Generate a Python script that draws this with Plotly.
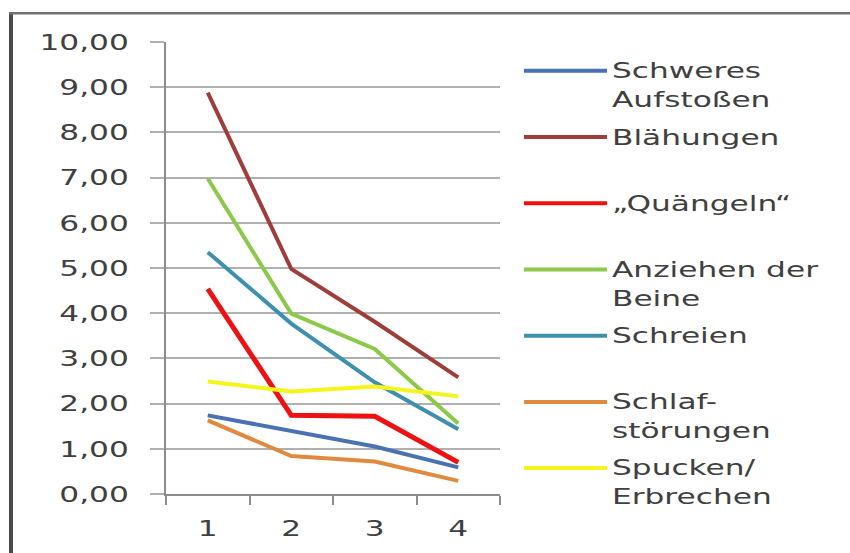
import plotly.graph_objects as go

# Measurement points on the category axis
periods = [1, 2, 3, 4]

# Symptom scores per measurement point
schweres_aufstossen = [1.74, 1.39, 1.05, 0.59]
blaehungen = [8.88, 4.98, 3.81, 2.58]
quaengeln = [4.54, 1.74, 1.72, 0.70]
anziehen_beine = [6.98, 3.99, 3.21, 1.56]
schreien = [5.35, 3.77, 2.47, 1.43]
schlafstoerungen = [1.63, 0.84, 0.72, 0.29]
spucken_erbrechen = [2.49, 2.27, 2.38, 2.16]

labels = [
    "Schweres<br>Aufstoßen",
    "Blähungen",
    "„Quängeln“",
    "Anziehen der<br>Beine",
    "Schreien",
    "Schlaf-<br>störungen",
    "Spucken/<br>Erbrechen",
]
values = [
    schweres_aufstossen,
    blaehungen,
    quaengeln,
    anziehen_beine,
    schreien,
    schlafstoerungen,
    spucken_erbrechen,
]
colors = ["#4a72b2", "#9e3e3b", "#ee1111", "#8cc84a", "#3f8fae", "#e0893f", "#f5f51a"]
widths = [4, 4, 5, 4, 4, 4, 4]

y_ticks = [0, 1, 2, 3, 4, 5, 6, 7, 8, 9, 10]

W, H = 850, 553
TEXT = "#404040"
FONT = "DejaVu Sans"

fig = go.Figure()
for name, ys, col, w in zip(labels, values, colors, widths):
    fig.add_trace(go.Scatter(
        x=periods, y=ys, mode="lines", name=name.replace("<br>", " "),
        line=dict(color=col, width=w), showlegend=False,
    ))

# Hand-built legend with long line keys to the right of the plot
leg_top, leg_step = 71, 66.5
key_x0, key_x1, text_x = 524, 607, 610
fsize = 22
line_h = 1.3 * fsize
shapes = []
annotations = []
for i, (name, col) in enumerate(zip(labels, colors)):
    yp = leg_top + i * leg_step
    shapes.append(dict(type="line", xref="paper", yref="paper",
                       x0=(key_x0 - 166) / 334, x1=(key_x1 - 166) / 334,
                       y0=(496 - yp) / 454, y1=(496 - yp) / 454,
                       line=dict(color=col, width=4)))
    n = name.count("<br>") + 1
    yc = yp + (n - 1) * line_h / 2
    annotations.append(dict(xref="paper", yref="paper",
                            x=(text_x - 166) / 334, y=(496 - yc) / 454,
                            xanchor="left", yanchor="middle", align="left",
                            text=name, showarrow=False,
                            font=dict(family=FONT, size=fsize, color=TEXT)))

# Outer frame (left and top edges)
shapes.append(dict(type="line", xref="paper", yref="paper",
                   x0=(11 - 166) / 334, x1=(11 - 166) / 334,
                   y0=(496 - 13) / 454, y1=(496 - 560) / 454,
                   line=dict(color="#4a4a4a", width=4)))
shapes.append(dict(type="line", xref="paper", yref="paper",
                   x0=(9 - 166) / 334, x1=(860 - 166) / 334,
                   y0=(496 - 13) / 454, y1=(496 - 13) / 454,
                   line=dict(color="#707070", width=2.5)))

fig.update_layout(
    width=W, height=H,
    margin=dict(l=166, r=W - 500, t=42, b=H - 496, pad=0),
    paper_bgcolor="white", plot_bgcolor="white",
    separators=",.",
    shapes=shapes, annotations=annotations,
    showlegend=False,
    font=dict(family=FONT, size=fsize, color=TEXT),
)
fig.update_xaxes(
    range=[0.5, 4.5], tickmode="array", tickvals=periods,
    ticktext=[str(p) for p in periods], ticks="", showgrid=False,
    showline=True, linecolor="#8c8c8c", linewidth=1.5,
    ticklabelstandoff=14, tickfont=dict(family=FONT, size=22, color=TEXT),
    minor=dict(tickmode="array", tickvals=[0.5, 1.5, 2.5, 3.5, 4.5],
               ticks="outside", ticklen=9, tickcolor="#8c8c8c", tickwidth=1.5),
    zeroline=False, fixedrange=True,
)
fig.update_yaxes(
    range=[0, 10], tickmode="array", tickvals=y_ticks, tickformat=".2f",
    ticks="outside", ticklen=14, tickcolor="#b0b0b0", tickwidth=1.5,
    showgrid=True, gridcolor="#b0b0b0", gridwidth=1.5,
    showline=True, linecolor="#8c8c8c", linewidth=1.5,
    ticklabelstandoff=17, tickfont=dict(family=FONT, size=22, color=TEXT),
    zeroline=False, fixedrange=True,
)

# Widen the lettering horizontally, keeping each label's anchor fixed
stretch_js = """
var gd = document.getElementById('{plot_id}');
var S = 1.42;
function stretch(sel) {
  gd.querySelectorAll(sel).forEach(function (t) {
    var b = t.getBBox();
    var a = t.getAttribute('text-anchor') || 'start';
    var x0 = a === 'end' ? b.x + b.width : (a === 'middle' ? b.x + b.width / 2 : b.x);
    var prev = t.getAttribute('transform') || '';
    t.setAttribute('transform', prev + ' translate(' + x0 + ',0) scale(' + S + ',1) translate(' + (-x0) + ',0)');
  });
}
stretch('.ytick text');
stretch('.xtick text');
stretch('.annotation-text');
"""

fig.write_html("out.html", post_script=stretch_js)
